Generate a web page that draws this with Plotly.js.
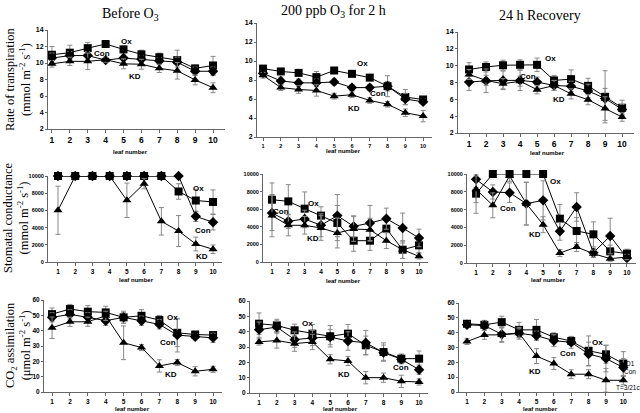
<!DOCTYPE html>
<html><head><meta charset="utf-8">
<script src="https://cdn.plot.ly/plotly-3.0.1.min.js"></script>
<style>html,body{margin:0;padding:0;background:#fff}#c{width:640px;height:413px}</style>
</head><body><div id="c"></div>
<script>
// leaf numbers
const leaf = [1,2,3,4,5,6,7,8,9,10];
const seriesNames = ['Ox','Con','KD'];
const colTitles = ['Before O<sub>3</sub>','200 ppb O<sub>3</sub> for 2 h','24 h Recovery'];
const rowTitles = ['Rate of transpiration<br>(mmol m<sup>-2</sup> s<sup>-1</sup>)',
                   'Stomatal conductance<br>(mmol m<sup>-2</sup> s<sup>-1</sup>)',
                   'CO<sub>2</sub> assimilation<br>(μmol m<sup>-2</sup> s<sup>-1</sup>)'];
const xTitle = 'leaf number';
// transpiration
const transBeforeOx  = [11.0,11.25,11.8,12.3,11.65,11.05,10.7,10.35,9.35,9.7];
const transBeforeCon = [10.6,10.9,10.9,10.35,10.6,10.45,10.25,10.1,9.0,9.0];
const transBeforeKD  = [9.9,10.2,10.2,10.4,9.9,9.85,9.35,9.05,7.95,7.0];
const transBeforeOxErr  = [1.0,0.9,0.7,0.3,0.4,0.5,0.5,1.2,0.3,1.1];
const transBeforeConErr = [0.6,0.5,0.5,0.3,0.5,0.4,0.4,0.6,0.5,0.5];
const transBeforeKDErr  = [0.4,0.5,1.0,0.3,0.6,0.6,0.5,1.0,0.6,0.6];
const transO3Ox  = [9.2,8.9,8.75,8.3,9.0,8.65,8.25,7.35,6.2,5.95];
const transO3Con = [8.7,7.9,7.7,7.7,7.8,7.2,7.2,7.35,6.0,5.7];
const transO3KD  = [8.5,7.2,7.0,6.9,6.3,6.45,5.85,5.45,4.55,4.2];
const transO3OxErr  = [0.3,0.3,0.3,0.6,0.3,0.3,0.3,1.1,0.8,0.3];
const transO3ConErr = [0.3,0.4,0.4,0.4,0.3,0.3,0.3,0.5,0.6,0.3];
const transO3KDErr  = [0.3,0.3,0.4,0.6,0.3,0.3,0.3,0.3,0.4,0.6];
const transRecOx  = [9.55,9.85,10.05,10.1,10.1,8.25,8.4,7.6,6.3,5.0];
const transRecCon = [8.05,8.2,8.25,8.25,8.05,7.65,7.55,7.0,6.1,4.8];
const transRecKD  = [8.95,8.25,7.85,8.15,7.15,7.65,6.65,5.95,4.9,3.9];
const transRecOxErr  = [0.8,0.6,0.6,0.6,0.8,0.6,1.1,0.9,3.1,0.9];
const transRecConErr = [1.0,1.4,1.1,1.2,0.6,0.6,0.6,0.8,1.2,0.6];
const transRecKDErr  = [0.6,0.6,0.6,0.6,0.5,0.6,0.6,0.6,1.4,0.5];
// stomatal conductance
const gsBeforeOx  = [10000,10000,10000,10000,10000,10000,10000,8200,7150,6980];
const gsBeforeCon = [10000,10000,10000,10000,10000,10000,10000,10000,5310,4620];
const gsBeforeKD  = [6010,10000,10000,10000,7170,9110,4730,3600,2090,1480];
const gsBeforeOxErr  = [0,0,0,0,0,0,0,900,1300,1400];
const gsBeforeConErr = [0,0,0,0,0,0,0,0,600,900];
const gsBeforeKDErr  = [2800,0,0,0,2000,600,1600,1800,800,500];
const gsO3Ox  = [7080,6890,6060,5270,4430,2420,2420,3790,1400,1890];
const gsO3Con = [5570,4620,4890,4170,5270,4050,4430,4920,3860,2730];
const gsO3KD  = [5270,4170,4170,3860,3300,3750,3670,2420,1400,640];
const gsO3OxErr  = [1900,1900,1900,1000,2000,1200,1100,1400,1000,800];
const gsO3ConErr = [2000,800,1000,1300,2400,1200,2000,1200,1700,1000];
const gsO3KDErr  = [2400,1200,1000,1400,1700,1400,1300,900,1000,300];
const gsRecOx  = [7790,10000,10000,10000,10000,4980,3600,3220,1310,1050];
const gsRecCon = [9400,7980,7900,6670,7040,3560,6290,1160,3030,560];
const gsRecKD  = [8280,6480,9780,6670,4310,1120,1800,1050,490,670];
const gsRecOxErr  = [2200,0,0,0,0,1600,1500,1400,700,500];
const gsRecConErr = [900,800,1100,2400,2200,1000,1600,500,2000,300];
const gsRecKDErr  = [1500,1400,600,2400,900,400,500,400,300,300];
// CO2 assimilation
const co2BeforeOx  = [50.8,54.1,52.4,51.9,48.7,49.7,46.9,38.6,37.5,37.1];
const co2BeforeCon = [48.7,50.6,48.7,46.5,48.7,46.5,44.1,37.1,36.0,35.3];
const co2BeforeKD  = [41.9,45.8,45.8,49.7,32.1,29.0,17.0,19.2,13.5,14.8];
const co2BeforeOxErr  = [4,3,4,4,4,4,3,9,2,2];
const co2BeforeConErr = [3,3,3,3,3,3,3,11,2,3];
const co2BeforeKDErr  = [7,3,3,3,11,2,4,2,3,2];
const co2O3Ox  = [45.2,44.1,40.9,38.7,37.0,38.7,31.1,26.7,22.4,22.4];
const co2O3Con = [41.3,43.0,34.8,35.9,36.5,33.9,32.8,26.3,22.0,15.2];
const co2O3KD  = [33.3,34.3,32.2,33.3,22.0,20.9,10.0,10.0,7.6,7.2];
const co2O3OxErr  = [7,4,4,6,7,6,6,6,3,5];
const co2O3ConErr = [5,4,5,5,5,6,8,5,3,3];
const co2O3KDErr  = [2,5,5,5,3,3,4,3,4,2];
const co2RecOx  = [46.0,45.3,47.1,41.9,41.9,36.9,34.4,27.8,25.4,19.2];
const co2RecCon = [45.3,44.8,38.9,39.6,38.0,34.6,33.5,25.6,22.6,16.5];
const co2RecKD  = [34.0,38.5,38.5,39.6,24.2,19.2,12.0,12.0,7.9,7.9];
const co2RecOxErr  = [2,3,4,5,7,3,3,10,6,8];
const co2RecConErr = [2,3,5,4,3,4,4,8,9,6];
const co2RecKDErr  = [2,3,5,3,5,4,3,3,8,3];

const W = 640, H = 413;
const FONT = 'Arial, "Liberation Sans", sans-serif';
const SERIF = '"Liberation Serif", "Times New Roman", serif';
const symbols = ['square','diamond','triangle-up'];
const msize = [8,8,8];

const panels = [
  {data:[transBeforeOx,transBeforeCon,transBeforeKD], err:[transBeforeOxErr,transBeforeConErr,transBeforeKDErr],
   px:[48,225,30,129], xr:[0.78,10.67], yr:[2,14], dt:2, xfs:8.5, yfs:7,
   lab:[[126,42],[102,53],[135,76]], xt:[130,152]},
  {data:[transO3Ox,transO3Con,transO3KD], err:[transO3OxErr,transO3ConErr,transO3KDErr],
   px:[257,432,23,137], xr:[0.66,10.5], yr:[2,14], dt:2, xfs:5.5, yfs:7,
   lab:[[362,63],[378,94],[354,108]], xt:[343,151]},
  {data:[transRecOx,transRecCon,transRecKD], err:[transRecOxErr,transRecConErr,transRecKDErr],
   px:[458,634,32,133], xr:[0.35,10.7], yr:[2,14], dt:2, xfs:8.5, yfs:7,
   lab:[[550,59],[528,76],[559,100]], xt:[547,153]},
  {data:[gsBeforeOx,gsBeforeCon,gsBeforeKD], err:[gsBeforeOxErr,gsBeforeConErr,gsBeforeKDErr],
   px:[48,222,176,262], xr:[0.42,10.52], yr:[0,10000], dt:2000, xfs:6.5, yfs:5.5,
   lab:[[198,188],[203,230],[202,256]], xt:[136,280]},
  {data:[gsO3Ox,gsO3Con,gsO3KD], err:[gsO3OxErr,gsO3ConErr,gsO3KDErr],
   px:[263,428,174,262], xr:[0.45,10.55], yr:[0,10000], dt:2000, xfs:6.5, yfs:5.5,
   lab:[[313,203],[281,211],[313,238]], xt:[343,281]},
  {data:[gsRecOx,gsRecCon,gsRecKD], err:[gsRecOxErr,gsRecConErr,gsRecKDErr],
   px:[467,636,174,263], xr:[0.46,10.54], yr:[0,10000], dt:2000, xfs:6.5, yfs:5.5,
   lab:[[555,182],[508,208],[535,234]], xt:[548,280]},
  {data:[co2BeforeOx,co2BeforeCon,co2BeforeKD], err:[co2BeforeOxErr,co2BeforeConErr,co2BeforeKDErr],
   px:[44,222,300,392], xr:[0.55,10.5], yr:[0,60], dt:10, xfs:6.5, yfs:6.5,
   lab:[[172,317],[168,342],[171,374]], xt:[132,409]},
  {data:[co2O3Ox,co2O3Con,co2O3KD], err:[co2O3OxErr,co2O3ConErr,co2O3KDErr],
   px:[250,428,301,393], xr:[0.49,10.5], yr:[0,60], dt:10, xfs:6.5, yfs:6.5,
   lab:[[307,323],[401,367],[344,374]], xt:[340,409]},
  {data:[co2RecOx,co2RecCon,co2RecKD], err:[co2RecOxErr,co2RecConErr,co2RecKDErr],
   px:[459,632,303,392], xr:[0.54,10.5], yr:[0,60], dt:10, xfs:6.5, yfs:6.5,
   lab:[[597,342],[568,353],[535,371]], xt:[540,409]}
];

function ann(x, y, text, font, extra) {
  return Object.assign({xref:'paper', yref:'paper', x:x/W, y:1-y/H, text:text, showarrow:false,
    xanchor:'center', yanchor:'middle', font:font}, extra || {});
}

const traces = [];
const layout = {
  width: W, height: H, margin:{l:0,r:0,t:0,b:0},
  paper_bgcolor:'#fff', plot_bgcolor:'#fff', showlegend:false,
  annotations: []
};
panels.forEach((p, i) => {
  const n = i === 0 ? '' : String(i+1);
  const xa = 'x'+n, ya = 'y'+n;
  p.data.forEach((vals, s) => {
    traces.push({
      type:'scatter', mode:'lines+markers', x: leaf, y: vals, xaxis: xa, yaxis: ya,
      name: seriesNames[s], cliponaxis:false,
      line:{color:'#000', width:1},
      marker:{symbol:symbols[s], size:msize[s], color:'#000'},
      error_y:{type:'data', array:p.err[s], visible:true, color:'#888', thickness:1, width:2.5}
    });
  });
  const common = {showline:true, linecolor:'#666', linewidth:1, ticks:'outside', ticklen:3,
    tickcolor:'#666', showgrid:false, zeroline:false, fixedrange:true};
  layout['xaxis'+n] = Object.assign({}, common, {
    domain:[p.px[0]/W, p.px[1]/W], range:p.xr, anchor:ya, tickvals:leaf,
    tickfont:{family:FONT, size:p.xfs, color:'#000', weight:'bold'}
  });
  layout['yaxis'+n] = Object.assign({}, common, {
    domain:[1-p.px[3]/H, 1-p.px[2]/H], range:p.yr, anchor:xa, dtick:p.dt, tickformat:'d',
    ticklen:2, tickfont:{family:FONT, size:p.yfs, color:'#000', weight:'bold'}
  });
  p.lab.forEach((xy, s) => {
    layout.annotations.push(ann(xy[0], xy[1], seriesNames[s], {family:FONT, size:8, color:'#000', weight:'bold'}));
  });
  layout.annotations.push(ann(p.xt[0], p.xt[1], xTitle, {family:FONT, size:6, color:'#000', weight:'bold'}));
});
[['D1',630,363],['Con',630,371],['T=3/21c',628,387]].forEach(a => {
  layout.annotations.push(ann(a[1], a[2], a[0], {family:FONT, size:6.5, color:'#000'}));
});
[[130,14],[333,12],[540,16]].forEach((xy, c) => {
  layout.annotations.push(ann(xy[0], xy[1], colTitles[c], {family:SERIF, size:14, color:'#000'}));
});
[[18,80],[16,218],[18,345]].forEach((xy, r) => {
  layout.annotations.push(ann(xy[0], xy[1], rowTitles[r], {family:SERIF, size:12.5, color:'#000'}, {textangle:-90}));
});
Plotly.newPlot('c', traces, layout, {staticPlot:true, displayModeBar:false});
</script></body></html>
